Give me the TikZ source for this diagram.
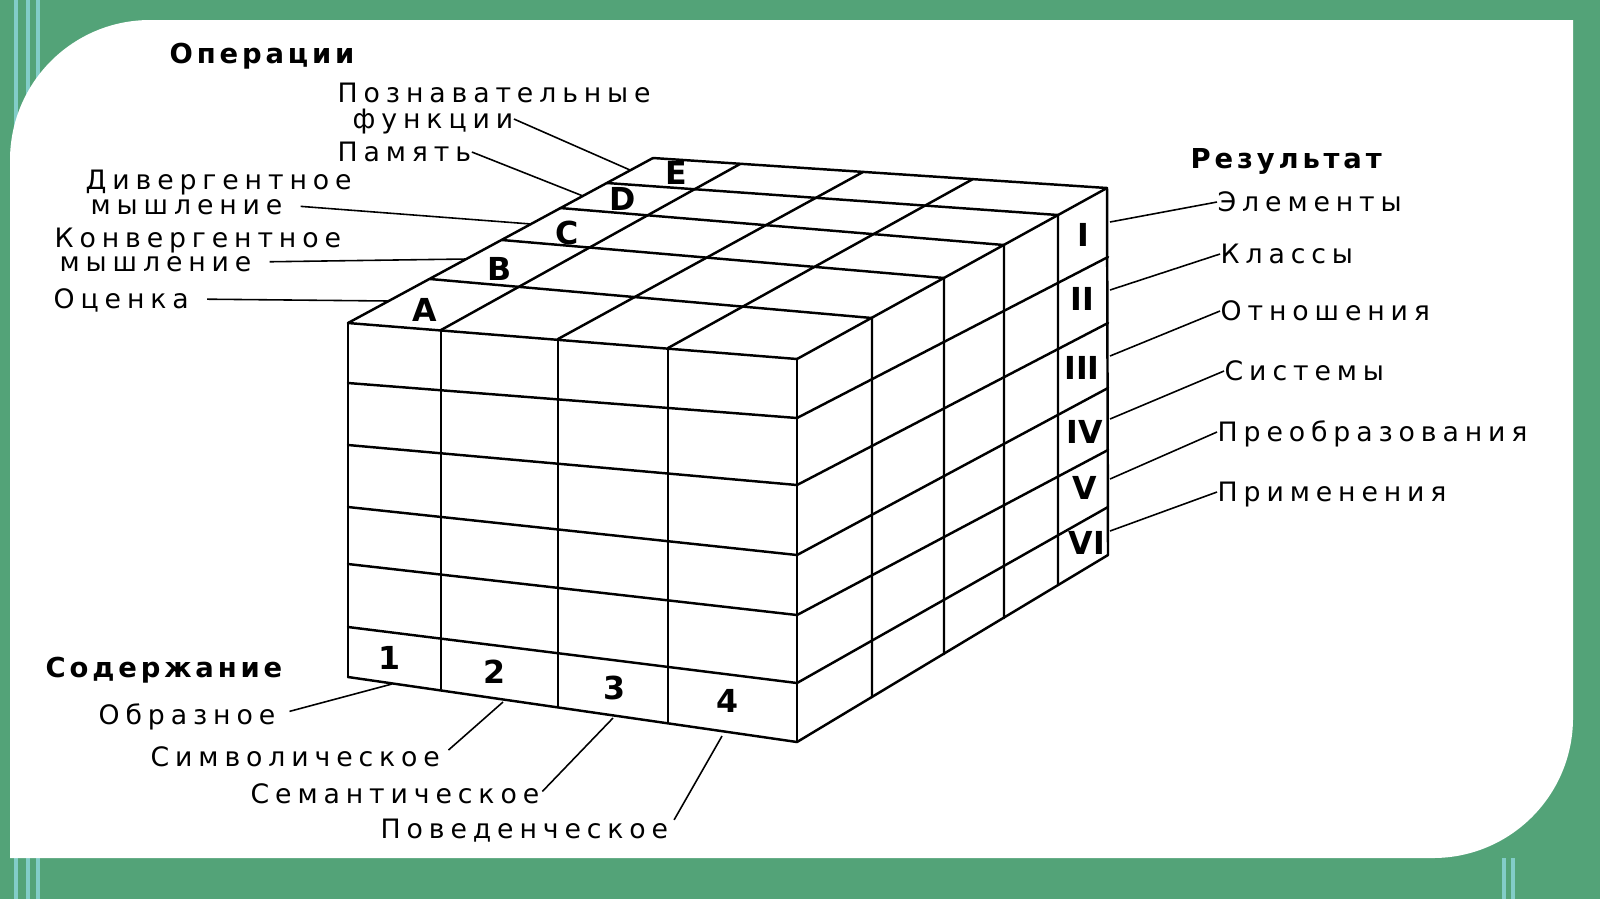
\documentclass[tikz,border=0pt]{standalone}
\usepackage{fontspec}
\setmainfont{DejaVu Sans}
\newfontfamily\lblfont{DejaVu Sans}[LetterSpace=22]
\newfontfamily\headfont{DejaVu Sans}[LetterSpace=14]
\definecolor{bggreen}{RGB}{83,163,120}
\definecolor{bgline}{RGB}{130,205,200}
\tikzset{
  lbl/.style={anchor=west, inner sep=0pt, text height=5.5pt, text depth=0pt,
    font=\lblfont\fontsize{7.6}{9}\selectfont},
  head/.style={anchor=west, inner sep=0pt, text height=5.7pt, text depth=0pt,
    font=\headfont\bfseries\fontsize{7.8}{9}\selectfont},
  cell/.style={inner sep=0pt, font=\bfseries\fontsize{9}{10}\selectfont},
  grid/.style={line width=0.7pt, line cap=round},
  ptr/.style={line width=0.45pt}
}
\begin{document}
\begin{tikzpicture}[x=0.01cm,y=-0.01cm]
  \useasboundingbox (0,0) rectangle (1600,899);
  \fill[bggreen] (0,0) rectangle (1600,899);
  \draw[bgline, line width=1pt] (16,0) -- (16,899) (28,0) -- (28,899) (38,0) -- (38,899)
    (1504,858) -- (1504,899) (1513,858) -- (1513,899);
  \fill[white] (10,858) -- (10,160) arc[start angle=180, end angle=270, radius=140]
    -- (1573,20) -- (1573,718) arc[start angle=0, end angle=90, radius=140] -- cycle;

  \begin{scope}[grid]
    \draw (348,323) -- (348,677) (441,330) -- (441,689) (558,339) -- (558,707)
      (668,348) -- (668,723) (797,359) -- (797,742);
    \draw (348,323) -- (797,359) (348,383) -- (797,418) (348,445) -- (797,485)
      (348,507) -- (797,555) (348,564) -- (797,615) (348,627) -- (797,683)
      (348,677) -- (797,742);
    \draw (430,279) -- (872,318) (502,240) -- (944,278) (560,208) -- (1004,245)
      (607,183) -- (1058,215) (653,158) -- (1107,188);
    \draw (348,323) -- (653,158) (441,330) -- (740,164) (558,339) -- (863,172)
      (668,348) -- (973,179) (797,359) -- (1107,188);
    \draw (872,318) -- (872,697) (944,278) -- (944,654) (1004,245) -- (1004,618)
      (1058,215) -- (1058,585) (1107,188) -- (1108,555);
    \draw (797,418) -- (1108,257) (797,485) -- (1108,323) (797,555) -- (1108,388)
      (797,615) -- (1108,450) (797,683) -- (1108,507) (797,742) -- (1108,555);
  \end{scope}

  \node[cell] (a) at (425,310) {A};
  \node[cell] (b) at (500,269) {B};
  \node[cell] (c) at (567,233) {C};
  \node[cell] (d) at (623,199) {D};
  \node[cell] (e) at (676,173) {E};
  \node[cell] (n1) at (390,658) {1};
  \node[cell] (n2) at (495,672) {2};
  \node[cell] (n3) at (615,688) {3};
  \node[cell] (n4) at (728,701) {4};
  \node[cell] (r1) at (1083,235) {I};
  \node[cell] (r2) at (1082,299) {II};
  \node[cell] (r3) at (1082,368) {III};
  \node[cell] (r4) at (1085,432) {IV};
  \node[cell] (r5) at (1085,488) {V};
  \node[cell] (r6) at (1087,543) {VI};

  \node[head] (ops) at (169,53) {Операции};
  \node[lbl] (opE) at (337,93) {Познавательные};
  \node[lbl] (opE2) at (352,119) {функции};
  \node[lbl] (opD) at (337,152) {Память};
  \node[lbl] (opC) at (85,180) {Дивергентное};
  \node[lbl] (opC2) at (90,205) {мышление};
  \node[lbl] (opB) at (54,238) {Конвергентное};
  \node[lbl] (opB2) at (59,262) {мышление};
  \node[lbl] (opA) at (53,299) {Оценка};

  \node[head] (res) at (1190,158) {Результат};
  \node[lbl] (pr1) at (1217,202) {Элементы};
  \node[lbl] (pr2) at (1220,254) {Классы};
  \node[lbl] (pr3) at (1220,311) {Отношения};
  \node[lbl] (pr4) at (1224,371) {Системы};
  \node[lbl] (pr5) at (1217,432) {Преобразования};
  \node[lbl] (pr6) at (1217,492) {Применения};

  \node[head] (cont) at (45,667) {Содержание};
  \node[lbl] (ct1) at (98,715) {Образное};
  \node[lbl] (ct2) at (150,757) {Символическое};
  \node[lbl] (ct3) at (250,794) {Семантическое};
  \node[lbl] (ct4) at (380,829) {Поведенческое};

  \coordinate (eA) at (389,301);
  \coordinate (eB) at (466,259);
  \coordinate (eC) at (531,224);
  \coordinate (eD) at (583,196);
  \coordinate (eE) at (630,170);
  \coordinate (s1) at (1110,222);
  \coordinate (s2) at (1110,290);
  \coordinate (s3) at (1110,356);
  \coordinate (s4) at (1110,419);
  \coordinate (s5) at (1110,479);
  \coordinate (s6) at (1110,531);
  \coordinate (b1) at (392,684);
  \coordinate (b2) at (503,702);
  \coordinate (b3) at (613,718);
  \coordinate (b4) at (722,736);

  \begin{scope}[ptr]
    \draw (opE2.east) to (eE);
    \draw (opD.east) to (eD);
    \draw[shorten <=5pt] (opC2.east) to (eC);
    \draw[shorten <=5pt] (opB2.east) to (eB);
    \draw[shorten <=5pt] (opA.east) to (eA);
    \draw (s1) to (pr1.west);
    \draw (s2) to (pr2.west);
    \draw (s3) to (pr3.west);
    \draw (s4) to (pr4.west);
    \draw (s5) to (pr5.west);
    \draw (s6) to (pr6.west);
    \draw[shorten <=4pt] (ct1.east) to (b1);
    \draw[shorten <=3pt] (ct2.east) to (b2);
    \draw[shorten <=1pt] (ct3.east) to (b3);
    \draw[shorten <=3pt] (ct4.east) to (b4);
  \end{scope}
\end{tikzpicture}
\end{document}
